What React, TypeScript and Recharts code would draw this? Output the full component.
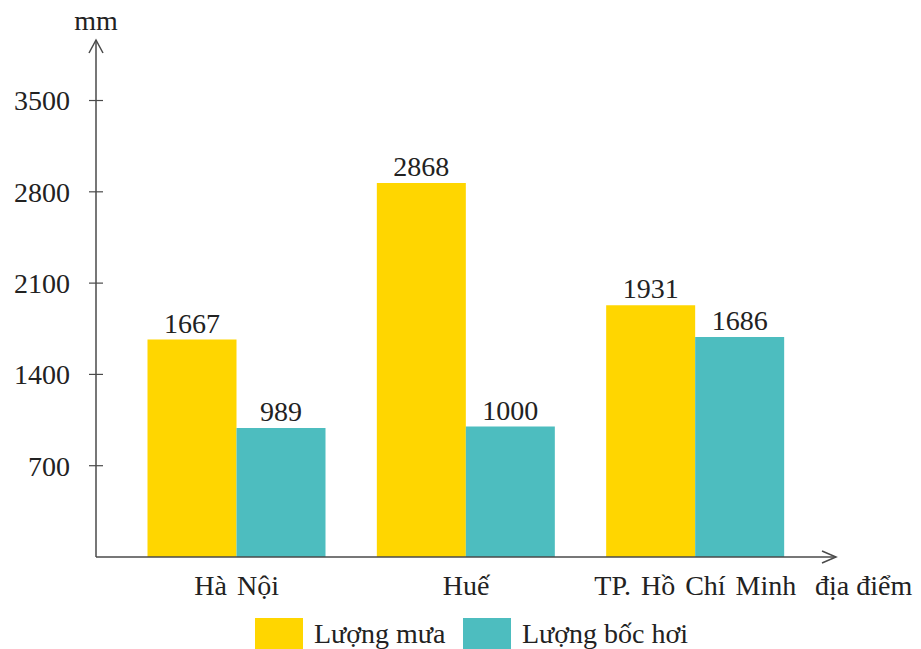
import React from "react";
import { BarChart, Bar, XAxis, YAxis, LabelList } from "recharts";

const categories = ["Hà Nội", "Huế", "TP. Hồ Chí Minh"];
const rainfall = [1667, 2868, 1931];
const evaporation = [989, 1000, 1686];
const yTicks = [700, 1400, 2100, 2800, 3500];
const seriesNames = ["Lượng mưa", "Lượng bốc hơi"];
const seriesColors = ["#FFD600", "#4DBDBF"];
const yUnit = "mm";
const xUnit = "địa điểm";

const data = categories.map((c, i) => ({
  name: c,
  rain: rainfall[i],
  evap: evaporation[i],
}));

const FONT = "'Liberation Serif', Tinos, 'Times New Roman', serif";
const TEXT = "#222";
const AXIS = "#4a4a4a";
const FS = 28;

const YTick = (props: any) => {
  const { x, y, payload } = props;
  return (
    <g>
      <line x1={x - 7} x2={x + 7} y1={y} y2={y} stroke={AXIS} strokeWidth={1.2} />
      <text x={x - 26} y={y} dy="0.35em" textAnchor="end" fontFamily={FONT} fontSize={FS} fill={TEXT}>
        {payload.value}
      </text>
    </g>
  );
};

const XTick = (props: any) => {
  const { x, y, payload } = props;
  return (
    <text x={x} y={y + 38} textAnchor="middle" fontFamily={FONT} fontSize={FS} fill={TEXT} wordSpacing={3}>
      {payload.value}
    </text>
  );
};

const ValueLabel = (props: any) => {
  const { x, y, width, value } = props;
  return (
    <text x={x + width / 2} y={y - 7} textAnchor="middle" fontFamily={FONT} fontSize={FS} fill={TEXT}>
      {value}
    </text>
  );
};

const YArrow = (props: any) => {
  const vb = props.viewBox || {};
  const ax = (vb.x ?? 0) + (vb.width ?? 0);
  const top = vb.y ?? 0;
  return (
    <g>
      <path d={`M${ax - 7},${top + 13} L${ax},${top} L${ax + 7},${top + 13}`} fill="none" stroke={AXIS} strokeWidth={1.5} />
      <text x={ax} y={top - 10} textAnchor="middle" fontFamily={FONT} fontSize={FS} fill={TEXT}>
        {yUnit}
      </text>
    </g>
  );
};

const XArrow = (props: any) => {
  const vb = props.viewBox || {};
  const right = (vb.x ?? 0) + (vb.width ?? 0);
  const ay = vb.y ?? 0;
  return (
    <g>
      <path d={`M${right - 14},${ay - 6} L${right},${ay} L${right - 14},${ay + 6}`} fill="none" stroke={AXIS} strokeWidth={1.5} />
      <text x={right - 21} y={ay + 38} textAnchor="start" fontFamily={FONT} fontSize={FS} fill={TEXT}>
        {xUnit}
      </text>
    </g>
  );
};

export default function App() {
  return (
    <div style={{ position: "relative", width: 921, height: 649, background: "#fff", overflow: "hidden" }}>
      <style>{`body{margin:0;}`}</style>
      <BarChart
        width={921}
        height={649}
        data={data}
        margin={{ top: 40, right: 85, bottom: 52, left: 36 }}
        barCategoryGap={25.5}
        barGap={0}
      >
        <YAxis
          width={60}
          domain={[0, 3964]}
          ticks={yTicks}
          allowDataOverflow
          tickSize={0}
          tickMargin={0}
          tickLine={false}
          axisLine={{ stroke: AXIS, strokeWidth: 1.5 }}
          tick={<YTick />}
          interval={0}
          label={{ content: <YArrow /> }}
        />
        <XAxis
          dataKey="name"
          height={40}
          padding={{ left: 26, right: 26 }}
          tickSize={0}
          tickMargin={0}
          tickLine={false}
          axisLine={{ stroke: AXIS, strokeWidth: 1.5 }}
          tick={<XTick />}
          interval={0}
          label={{ content: <XArrow /> }}
        />
        <Bar dataKey="rain" name={seriesNames[0]} fill={seriesColors[0]} isAnimationActive={false}>
          <LabelList dataKey="rain" content={<ValueLabel />} />
        </Bar>
        <Bar dataKey="evap" name={seriesNames[1]} fill={seriesColors[1]} isAnimationActive={false}>
          <LabelList dataKey="evap" content={<ValueLabel />} />
        </Bar>
      </BarChart>
      <div
        style={{
          position: "absolute",
          left: 255,
          top: 618,
          display: "flex",
          alignItems: "flex-start",
          fontFamily: FONT,
          fontSize: FS,
          color: TEXT,
          lineHeight: "32px",
        }}
      >
        {seriesNames.map((n, i) => (
          <div key={n} style={{ display: "flex", alignItems: "flex-start", marginRight: i === 0 ? 11 : 0 }}>
            <div style={{ width: 48, height: 32, background: seriesColors[i], marginRight: 11 }} />
            <span style={{ display: "inline-block", minWidth: i === 0 ? 138 : 0 }}>{n}</span>
          </div>
        ))}
      </div>
    </div>
  );
}
